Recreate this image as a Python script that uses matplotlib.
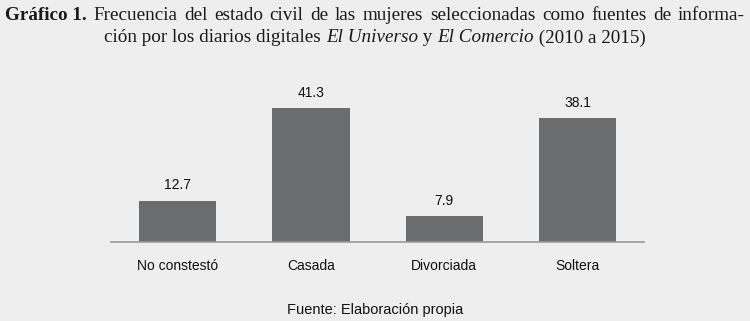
import matplotlib.pyplot as plt

categories = ["No constestó", "Casada", "Divorciada", "Soltera"]
values = [12.7, 41.3, 7.9, 38.1]
title_bold = "Gráfico 1."
title_line1 = "Frecuencia del estado civil de las mujeres seleccionadas como fuentes de informa-"
title_line2 = [("ción por los diarios digitales ", "normal"), ("El Universo", "italic"),
               (" y ", "normal"), ("El Comercio", "italic"), (" (2010 a 2015)", "normal")]
source = "Fuente: Elaboración propia"

BG = "#eeeeee"
BAR = "#6b6c6e"
W, H = 750, 321

fig = plt.figure(figsize=(7.5, 3.21), dpi=100, facecolor=BG)
ax = fig.add_axes([0.148, 0.246, 0.711, 0.455])
ax.set_facecolor(BG)

x = range(len(categories))
ax.bar(x, values, width=0.58, color=BAR, zorder=2)
for xi, v in zip(x, values):
    ax.annotate(f"{v:.1f}", (xi, v), xytext=(0, 6), textcoords="offset points",
                ha="center", va="bottom", fontsize=10, family="Liberation Sans",
                color="#111111")

ax.set_xlim(-0.5, 3.5)
ax.set_ylim(0, 45)
ax.set_xticks(list(x))
ax.set_xticklabels(categories, fontsize=10, family="Liberation Sans", color="#111111")
ax.tick_params(axis="x", length=0, pad=12)
ax.set_yticks([])
for s in ["top", "right", "left"]:
    ax.spines[s].set_visible(False)
ax.spines["bottom"].set_color("#9a9a9a")
ax.spines["bottom"].set_linewidth(1.2)

# title line 1, justified between x=5 and x=745 px
tfont = dict(family="Liberation Serif", fontsize=13.8, color="#1a1a1a")
y1 = 1 - 15 / H
fig.canvas.draw()
r = fig.canvas.get_renderer()
words = [(title_bold, "bold")] + [(w, "normal") for w in title_line1.split()]
objs = []
for w, wt in words:
    t = fig.text(0, y1, w, va="center", ha="left", fontweight=wt, **tfont)
    objs.append(t)
widths = [t.get_window_extent(r).width for t in objs]
gap = (740 - sum(widths)) / (len(objs) - 1)
xpos = 5
for t, wd in zip(objs, widths):
    t.set_x(xpos / W)
    xpos += wd + gap

# title line 2, centered
y2 = 1 - 38 / H
objs2 = [fig.text(0, y2, txt, va="center", ha="left", style=st, **tfont)
         for txt, st in title_line2]
widths2 = [t.get_window_extent(r).width for t in objs2]
xpos = 375 - sum(widths2) / 2
for t, wd in zip(objs2, widths2):
    t.set_x(xpos / W)
    xpos += wd

fig.text(0.5, 0.035, source, ha="center", va="center", fontsize=10.5,
         family="Liberation Sans", color="#111111")

fig.savefig("out.png", dpi=100, facecolor=BG)
